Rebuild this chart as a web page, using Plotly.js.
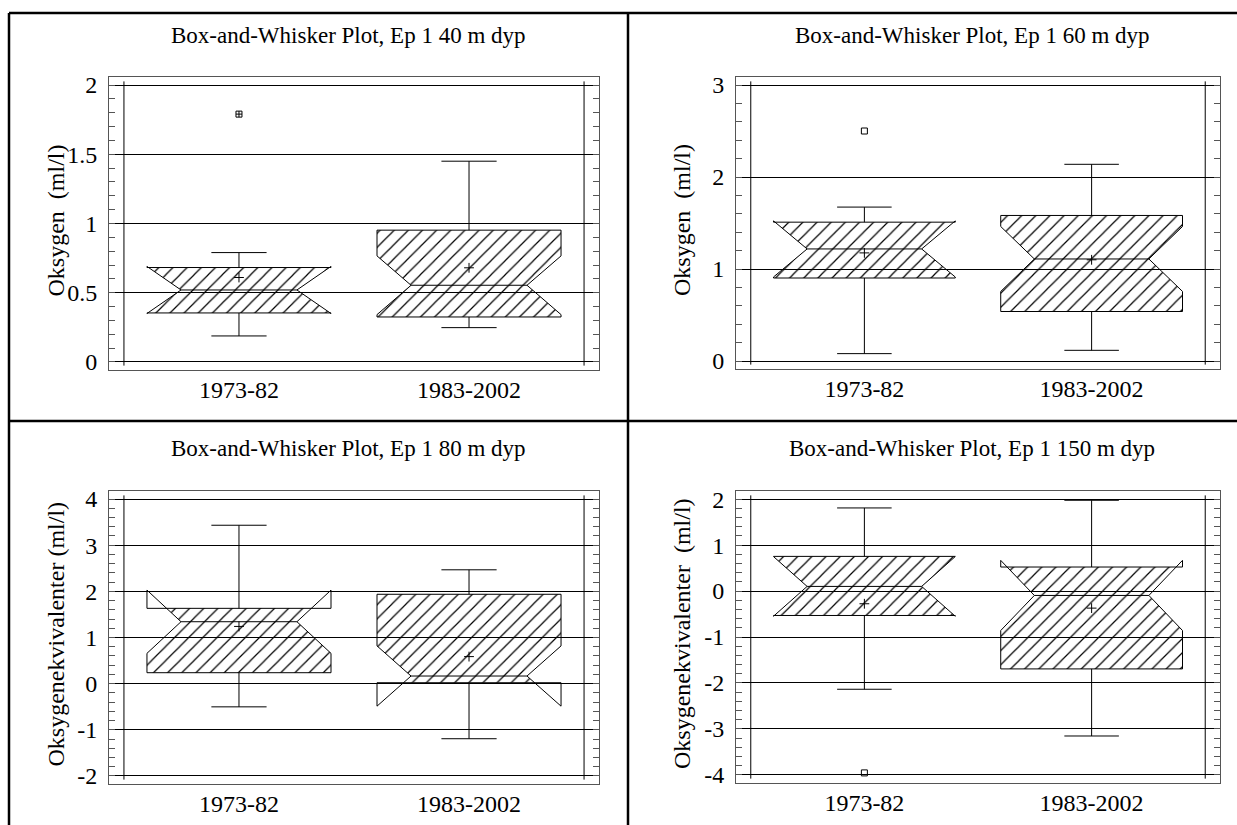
<!DOCTYPE html>
<html><head><meta charset="utf-8">
<script src="https://cdn.plot.ly/plotly-3.0.1.min.js"></script>
<style>html,body{margin:0;padding:0;background:#fff}#chart{width:1237px;height:825px}</style>
</head><body><div id="chart"></div>
<script>
// ---------- data ----------
const categories = ['1973-82', '1983-2002'];
const panelTitles = [
  'Box-and-Whisker Plot, Ep 1 40 m dyp',
  'Box-and-Whisker Plot, Ep 1 60 m dyp',
  'Box-and-Whisker Plot, Ep 1 80 m dyp',
  'Box-and-Whisker Plot, Ep 1 150 m dyp'
];
const yAxisTitles = [
  'Oksygen\u00a0 (ml/l)',
  'Oksygen\u00a0 (ml/l)',
  'Oksygenekvivalenter (ml/l)',
  'Oksygenekvivalenter\u00a0 (ml/l)'
];

// 40 m
const q1_40 = [0.354, 0.325];
const median_40 = [0.520, 0.554];
const q3_40 = [0.682, 0.952];
const lowerWhisker_40 = [0.188, 0.248];
const upperWhisker_40 = [0.790, 1.450];
const notchHalf_40 = [0.170, 0.212];
const mean_40 = [0.61, 0.68];
const outlierCat_40 = ['1973-82'];
const outlierVal_40 = [1.79];
const yTicks_40 = [0, 0.5, 1, 1.5, 2];

// 60 m
const q1_60 = [0.902, 0.538];
const median_60 = [1.218, 1.109];
const q3_60 = [1.509, 1.582];
const lowerWhisker_60 = [0.080, 0.116];
const upperWhisker_60 = [1.673, 2.138];
const notchHalf_60 = [0.305, 0.353];
const mean_60 = [1.175, 1.10];
const outlierCat_60 = ['1973-82'];
const outlierVal_60 = [2.50];
const yTicks_60 = [0, 1, 2, 3];

// 80 m
const q1_80 = [0.237, 0.020];
const median_80 = [1.342, 0.165];
const q3_80 = [1.632, 1.937];
const lowerWhisker_80 = [-0.503, -1.194];
const upperWhisker_80 = [3.433, 2.467];
const notchHalf_80 = [0.685, 0.653];
const mean_80 = [1.24, 0.586];
const outlierCat_80 = [];
const outlierVal_80 = [];
const yTicks_80 = [-2, -1, 0, 1, 2, 3, 4];

// 150 m
const q1_150 = [-0.531, -1.695];
const median_150 = [0.102, -0.095];
const q3_150 = [0.756, 0.524];
const lowerWhisker_150 = [-2.138, -3.156];
const upperWhisker_150 = [1.811, 1.978];
const notchHalf_150 = [0.650, 0.764];
const mean_150 = [-0.276, -0.371];
const outlierCat_150 = ['1973-82'];
const outlierVal_150 = [-3.96];
const yTicks_150 = [-4, -3, -2, -1, 0, 1, 2];

// ---------- layout helpers ----------
const W = 1237, H = 825;
const px = v => v / W;
const py = v => 1 - v / H;
const BOX_W = 0.8, NOTCH_W = 0.185, WHISK_W = 0.3;
const FONT = 'Liberation Serif';
const positions = categories.map((_, i) => i + 1);

const panels = [
  {q1:q1_40, med:median_40, q3:q3_40, lo:lowerWhisker_40, hi:upperWhisker_40, notch:notchHalf_40, mean:mean_40, oc:outlierCat_40, ov:outlierVal_40, ticks:yTicks_40, range:[-0.058, 2.058], minor:0.1, xpx:[109,599], ypx:[77,370], outSym:'square-cross-open'},
  {q1:q1_60, med:median_60, q3:q3_60, lo:lowerWhisker_60, hi:upperWhisker_60, notch:notchHalf_60, mean:mean_60, oc:outlierCat_60, ov:outlierVal_60, ticks:yTicks_60, range:[-0.087, 3.087], minor:0.2, xpx:[736,1220], ypx:[77,369], outSym:'square-open'},
  {q1:q1_80, med:median_80, q3:q3_80, lo:lowerWhisker_80, hi:upperWhisker_80, notch:notchHalf_80, mean:mean_80, oc:outlierCat_80, ov:outlierVal_80, ticks:yTicks_80, range:[-2.175, 4.175], minor:0.2, xpx:[109,599], ypx:[491,784], outSym:'square-open'},
  {q1:q1_150, med:median_150, q3:q3_150, lo:lowerWhisker_150, hi:upperWhisker_150, notch:notchHalf_150, mean:mean_150, oc:outlierCat_150, ov:outlierVal_150, ticks:yTicks_150, range:[-4.18, 2.18], minor:0.2, xpx:[736,1220], ypx:[491,783], outSym:'square-open'}
];

const traces = [];
const layout = {
  width: W, height: H,
  margin: {l:0, r:0, t:0, b:0},
  paper_bgcolor: '#fff', plot_bgcolor: 'rgba(0,0,0,0)',
  showlegend: false,
  font: {family: FONT, color: '#000', size: 24},
  annotations: [], shapes: []
};

function hatchPolygon(c, q1, m, q3, d) {
  const half = BOX_W / 2, inner = half * (1 - 2 * NOTCH_W);
  const w = y => {
    const a = Math.abs(y - m);
    return a >= d ? half : inner + (half - inner) * a / d;
  };
  let ys = [q1, m - d, m, m + d, q3].filter(y => y >= q1 && y <= q3).sort((a, b) => a - b);
  ys = ys.filter((y, i) => i === 0 || y !== ys[i - 1]);
  const xs = [], yy = [];
  ys.forEach(y => { xs.push(c - w(y)); yy.push(y); });
  ys.slice().reverse().forEach(y => { xs.push(c + w(y)); yy.push(y); });
  xs.push(xs[0]); yy.push(yy[0]);
  return {x: xs, y: yy};
}

panels.forEach((p, k) => {
  const n = k === 0 ? '' : String(k + 1);
  const xa = 'x' + n, ya = 'y' + n;

  // hatched area
  positions.forEach((c, i) => {
    const poly = hatchPolygon(c, p.q1[i], p.med[i], p.q3[i], p.notch[i]);
    traces.push({
      type: 'scatter', mode: 'lines', xaxis: xa, yaxis: ya,
      x: poly.x, y: poly.y, fill: 'toself', fillcolor: '#000',
      fillpattern: {shape: '/', size: 10, solidity: 0.12, fgcolor: '#000', bgcolor: 'rgba(0,0,0,0)'},
      line: {width: 0, color: 'rgba(0,0,0,0)'}, hoverinfo: 'skip'
    });
  });

  // notched box outline + whiskers
  traces.push({
    type: 'box', xaxis: xa, yaxis: ya, x: positions,
    q1: p.q1, median: p.med, q3: p.q3, lowerfence: p.lo, upperfence: p.hi,
    notchspan: p.notch, notched: true, notchwidth: NOTCH_W,
    width: BOX_W, whiskerwidth: WHISK_W, boxpoints: false,
    fillcolor: 'rgba(0,0,0,0)', line: {color: '#000', width: 1}, hoverinfo: 'skip'
  });

  // means
  traces.push({
    type: 'scatter', mode: 'markers', xaxis: xa, yaxis: ya,
    x: positions, y: p.mean,
    marker: {symbol: 'cross-thin-open', size: 7, color: '#000', line: {width: 1, color: '#000'}},
    hoverinfo: 'skip'
  });

  // outliers
  if (p.ov.length) {
    traces.push({
      type: 'scatter', mode: 'markers', xaxis: xa, yaxis: ya,
      x: p.oc.map(c => categories.indexOf(c) + 1), y: p.ov,
      marker: {symbol: p.outSym, size: 6, color: '#000', line: {width: 1, color: '#000'}},
      hoverinfo: 'skip'
    });
  }

  layout['xaxis' + n] = {
    domain: [px(p.xpx[0]), px(p.xpx[1])], anchor: ya,
    range: [0.435, categories.length + 0.565], fixedrange: true,
    tickmode: 'array', tickvals: positions, ticktext: categories,
    ticks: '', showline: true, mirror: true, linecolor: '#555', linewidth: 1,
    showgrid: false, zeroline: false,
    tickfont: {family: FONT, size: 24, color: '#000'}, ticklabelstandoff: -2
  };
  layout['yaxis' + n] = {
    domain: [py(p.ypx[1]), py(p.ypx[0])], anchor: xa,
    range: p.range, fixedrange: true,
    tickmode: 'array', tickvals: p.ticks, ticktext: p.ticks.map(String),
    ticks: 'inside', ticklen: 6, tickcolor: '#555', tickwidth: 1,
    showline: true, mirror: 'allticks', linecolor: '#555', linewidth: 1,
    showgrid: true, gridcolor: '#000', gridwidth: 1, zeroline: false,
    minor: {dtick: p.minor, tick0: 0, ticks: 'inside', ticklen: 6, tickcolor: '#555', tickwidth: 1, showgrid: false},
    tickfont: {family: FONT, size: 24, color: '#000'}, ticklabelstandoff: 6
  };

  // inner vertical frame lines at category bounds
  [0.5, categories.length + 0.5].forEach(xv => {
    layout.shapes.push({type: 'line', xref: xa, yref: ya + ' domain', x0: xv, x1: xv, y0: 0.015, y1: 0.985,
      line: {color: '#000', width: 1}, layer: 'below'});
  });

  // panel title
  const cx = (p.xpx[0] + p.xpx[1]) / 2 - 6;
  layout.annotations.push({
    xref: 'paper', yref: 'paper', x: px(cx), y: py(p.ypx[0] - 42),
    xanchor: 'center', yanchor: 'middle', showarrow: false,
    text: panelTitles[k], font: {family: FONT, size: 23, color: '#000'}
  });
  // y-axis title
  layout.annotations.push({
    xref: 'paper', yref: 'paper', x: px(p.xpx[0] - 54), y: py((p.ypx[0] + p.ypx[1]) / 2 - 3),
    xanchor: 'center', yanchor: 'middle', showarrow: false, textangle: -90,
    text: yAxisTitles[k], font: {family: FONT, size: 24, color: '#000'}
  });
});

// cell borders
const border = {color: '#000', width: 2.5};
[
  [9, 13, 9, H], [9, 13, W, 13], [628, 13, 628, H], [9, 421, W, 421]
].forEach(s => layout.shapes.push({type: 'line', xref: 'paper', yref: 'paper',
  x0: px(s[0]), y0: py(s[1]), x1: px(s[2]), y1: py(s[3]), line: border, layer: 'above'}));

Plotly.newPlot('chart', traces, layout, {staticPlot: true, displayModeBar: false});
</script></body></html>
